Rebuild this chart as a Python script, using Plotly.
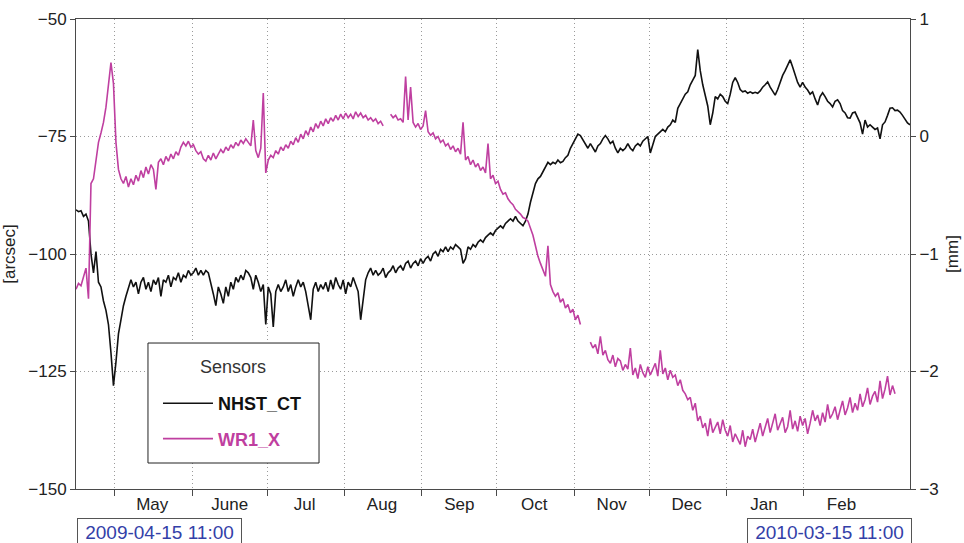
import pandas as pd
import plotly.graph_objects as go

# ---- data ----
start = "2009-04-15 11:00"
end = "2010-03-15 11:00"
dates = pd.date_range(start, periods=335, freq="D")

nhst_ct = [  # [arcsec], left axis, daily
    -90.6, -91, -90.8, -92, -91.5, -93, -100, -104, -99.5, -106,
    -107, -110, -112, -115, -121, -128, -123, -117, -114, -111,
    -109, -107, -105.5, -107, -106, -108.5, -106, -105, -107.5, -106,
    -108, -105.5, -106.5, -105, -109, -105.5, -106, -104.5, -107, -105,
    -105.5, -104, -106, -104.5, -105, -103.5, -104.5, -104, -103, -104.5,
    -103.5, -104.5, -103.5, -104, -106, -108.5, -111, -107, -108.5, -110.5,
    -107, -109, -106, -107.5, -105, -106, -104.5, -105.5, -103.5, -104,
    -105, -107.5, -104.5, -106, -108, -106.5, -115, -107, -108.5, -115.5,
    -108, -106.5, -108, -107, -105.5, -108, -106.5, -109, -107, -105.5,
    -107, -106, -108, -111.5, -114, -107.5, -106, -108, -106.5, -107.5,
    -106, -108, -105.5, -107.5, -105, -106.5, -107.5, -105.5, -108.5, -106,
    -107, -105, -106.5, -108, -114, -109, -105.5, -104, -103, -104.5,
    -103.5, -104.5, -104, -103, -105, -104, -103.5, -102.5, -104, -103,
    -102.5, -103.5, -102, -101.5, -103, -102, -101.5, -102.5, -101, -102,
    -101, -100.5, -101.5, -100, -99.5, -100.5, -99, -99.5, -98.5, -99.5,
    -98.5, -99, -98, -98.5, -99, -102, -101, -98.5, -99, -98,
    -98.5, -97.5, -97, -97.5, -96.5, -96, -95.5, -96, -95, -94.5,
    -94, -94.5, -93.5, -93, -92.5, -93, -92, -93, -93.5, -94,
    -93, -91.5, -89, -87, -85, -84, -83.5, -82.5, -81.5, -80.5,
    -81, -80.5, -80.8, -80, -80.6, -80.3, -79.5, -79, -77.5, -76.5,
    -75.5, -74.5, -74.8, -75.8, -76.5, -77.5, -76.5, -77.5, -78.3, -77,
    -76.5, -75.5, -74.8, -75.5, -76.5, -76, -77.5, -78.5, -77.5, -78,
    -77.5, -76.5, -77.5, -78, -77, -76.5, -77, -76, -75.5, -75,
    -78.5, -76.5, -75, -74.5, -74, -73.5, -74, -73, -72.5, -71.5,
    -72, -69, -68, -67, -66, -65.5, -64, -63, -62, -56.5,
    -61, -64, -66.5, -68.5, -72.5, -70, -66.5, -67, -66, -66.5,
    -67.5, -68, -66, -63.5, -62.5, -63.5, -65, -65.5, -65.3, -65.8,
    -65.5, -65.8, -65.6, -65.8, -65.3, -64.5, -64, -63.4, -64.5, -65.5,
    -66.2, -65, -63.5, -62, -61, -60, -58.7, -60.2, -62, -63.5,
    -64.5, -63.5, -64.5, -65.1, -66, -65.5, -67, -68.3, -66.5, -65.7,
    -66.5, -67.5, -68, -68.7, -67.5, -67.2, -68, -69.5, -70, -71,
    -71.1, -70, -69.8, -71, -72.1, -74.5, -71.5, -73, -72.5, -73,
    -73.5, -73.2, -75.5, -72.5, -71.9, -70.5, -69, -68.9, -69.5, -69.4,
    -69.8, -70.5, -71.3, -72.1, -72.5,
]

wr1_x = [  # [mm], right axis, daily
    -1.30, -1.25, -1.27, -1.20, -1.12, -1.38, -0.40, -0.36, -0.22, -0.05,
    0.03, 0.12, 0.25, 0.42, 0.63, 0.45, -0.05, -0.28, -0.36, -0.40,
    -0.34, -0.43, -0.36, -0.41, -0.33, -0.38, -0.29, -0.35, -0.26, -0.32,
    -0.24, -0.28, -0.45, -0.22, -0.19, -0.24, -0.17, -0.21, -0.15, -0.19,
    -0.13, -0.16, -0.09, -0.05, -0.08, -0.04, -0.09, -0.07, -0.12, -0.15,
    -0.13, -0.19, -0.21, -0.16, -0.20, -0.14, -0.19, -0.15, -0.11, -0.14,
    -0.09, -0.12, -0.07, -0.10, -0.05, -0.08, -0.03, -0.06, -0.02, -0.05,
    -0.08, 0.14, -0.12, -0.18, -0.10, 0.37, -0.31, -0.20, -0.16, -0.18,
    -0.12, -0.15, -0.09, -0.12, -0.07, -0.10, -0.04, -0.07, -0.01, -0.05,
    0.02, -0.02, 0.05, 0.01, 0.08, 0.04, 0.11, 0.07, 0.13, 0.09,
    0.15, 0.11, 0.16, 0.13, 0.18, 0.14, 0.19, 0.15, 0.20, 0.16,
    0.19, 0.15, 0.21, 0.17, 0.20, 0.16, 0.18, 0.14, 0.16, 0.13,
    0.15, 0.11, 0.13, 0.09, None, None, 0.19, 0.16, 0.18, 0.14,
    0.15, 0.12, 0.51, 0.14, 0.42, 0.12, 0.08, 0.11, 0.06, 0.09,
    0.22, 0.04, 0.01, 0.03, -0.02, 0.00, -0.05, -0.03, -0.08, -0.06,
    -0.11, -0.08, -0.13, -0.10, -0.15, 0.12, -0.20, -0.17, -0.24, -0.20,
    -0.26, -0.23, -0.29, -0.26, -0.31, -0.06, -0.36, -0.33, -0.40, -0.38,
    -0.45, -0.49, -0.48, -0.53, -0.56, -0.58, -0.62, -0.64, -0.66, -0.69,
    -0.70, -0.72, -0.78, -0.84, -0.93, -1.02, -1.08, -1.14, -1.19, -0.93,
    -1.26, -1.32, -1.36, -1.33, -1.41, -1.38, -1.46, -1.43, -1.50, -1.47,
    -1.56, -1.52, -1.60, None, None, None, -1.75, -1.80, -1.77, -1.85,
    -1.70, -1.86, -1.82, -1.90, -1.93, -1.86, -1.96, -1.89, -1.91, -1.99,
    -1.94, -1.98, -1.80, -2.03, -1.97, -2.06, -1.94, -2.01, -2.05, -1.96,
    -2.03, -1.98, -1.93, -2.04, -1.82, -2.02, -1.97, -2.07, -1.99, -2.05,
    -2.03, -2.12, -2.07, -2.16, -2.19, -2.24, -2.22, -2.33, -2.27, -2.42,
    -2.38, -2.48, -2.44, -2.55, -2.40, -2.52, -2.47, -2.43, -2.53, -2.41,
    -2.50, -2.55, -2.46, -2.60, -2.53, -2.57, -2.62, -2.50, -2.64, -2.55,
    -2.58, -2.49, -2.60, -2.52, -2.44, -2.55, -2.48, -2.40, -2.52, -2.45,
    -2.36, -2.50, -2.44, -2.39, -2.52, -2.47, -2.33, -2.49, -2.42, -2.51,
    -2.38, -2.46, -2.40, -2.53, -2.44, -2.33, -2.42, -2.37, -2.46, -2.35,
    -2.43, -2.28, -2.40, -2.36, -2.30, -2.41, -2.33, -2.25, -2.37, -2.31,
    -2.22, -2.35, -2.27, -2.33, -2.19, -2.30, -2.24, -2.14, -2.28, -2.21,
    -2.17, -2.26, -2.08, -2.23, -2.15, -2.04, -2.20, -2.12, -2.19, None,
    None, None, None, None, None,
]

month_starts = ["2009-05-01", "2009-06-01", "2009-07-01", "2009-08-01", "2009-09-01",
                "2009-10-01", "2009-11-01", "2009-12-01", "2010-01-01", "2010-02-01"]
month_mids = ["2009-05-16", "2009-06-16", "2009-07-16", "2009-08-16", "2009-09-16",
              "2009-10-16", "2009-11-16", "2009-12-16", "2010-01-16", "2010-02-16"]
month_names = ["May", "June", "Jul", "Aug", "Sep", "Oct", "Nov", "Dec", "Jan", "Feb"]

left_ticks = [-150, -125, -100, -75, -50]
right_ticks = [-3, -2, -1, 0, 1]

BLACK = "#111111"
MAGENTA = "#BF3FA0"
FONT = "Liberation Sans, Arial, sans-serif"
AXIS = "#4a4a4a"
GRID = "#9a9a9a"
GRIDDASH = "1px,3px"

fig = go.Figure()
fig.add_trace(go.Scatter(x=dates, y=nhst_ct, mode="lines", name="<b>NHST_CT</b>",
                         legendgroup="a", hoverinfo="skip",
                         line=dict(color=BLACK, width=1.6), yaxis="y"))
fig.add_trace(go.Scatter(x=dates, y=wr1_x, mode="lines",
                         name="<b><span style='color:#BF3FA0'>WR1_X</span></b>",
                         legendgroup="b", hoverinfo="skip",
                         line=dict(color=MAGENTA, width=1.6), yaxis="y2",
                         connectgaps=False))

fig.update_layout(
    width=964, height=543,
    margin=dict(l=76, r=54, t=19, b=54),
    paper_bgcolor="white", plot_bgcolor="white",
    font=dict(family=FONT, size=17, color="#222222"),
    showlegend=True,
    legend=dict(
        x=0.0983, y=0.2213, xanchor="left", yanchor="top",
        bgcolor="rgba(0,0,0,0)", borderwidth=0,
        font=dict(family=FONT, size=18, color="#111111"),
        itemwidth=50,
        tracegroupgap=9,
    ),
    xaxis=dict(
        type="date", range=[start, end], automargin=False,
        tickmode="array", tickvals=month_mids, ticktext=month_names,
        ticks="", showgrid=False,
        showline=True, linecolor=AXIS, linewidth=1, mirror=True,
        tickfont=dict(family=FONT, size=17, color="#222222"),
        minor=dict(tickmode="array", tickvals=month_starts, showgrid=True,
                   gridcolor=GRID, griddash=GRIDDASH, gridwidth=1,
                   ticks="outside", ticklen=6, tickcolor=AXIS),
        zeroline=False,
    ),
    yaxis=dict(
        range=[-150, -50], tickmode="array", tickvals=left_ticks, automargin=False,
        showgrid=True, gridcolor=GRID, griddash=GRIDDASH,
        showline=True, linecolor=AXIS, linewidth=1,
        ticks="outside", ticklen=5, tickcolor=AXIS,
        title=dict(text="[arcsec]", standoff=10, font=dict(family=FONT, size=17, color="#222222")),
        zeroline=False,
    ),
    yaxis2=dict(
        range=[-3, 1], tickmode="array", tickvals=right_ticks, automargin=False,
        overlaying="y", side="right", showgrid=False,
        showline=True, linecolor=AXIS, linewidth=1,
        ticks="outside", ticklen=5, tickcolor=AXIS,
        title=dict(text="[mm]", standoff=8, font=dict(family=FONT, size=17, color="#222222")),
        zeroline=False,
    ),
)

# legend frame and title
fig.add_shape(type="rect", xref="paper", yref="paper",
              x0=0.0863, x1=0.2914, y0=0.0553, y1=0.3106,
              line=dict(color="#222222", width=1), fillcolor="white", layer="above")
fig.add_annotation(text="Sensors", xref="paper", yref="paper", x=0.1888, y=0.2596,
                   xanchor="center", yanchor="middle", showarrow=False,
                   font=dict(family=FONT, size=18, color="#333333"))

for txt, xpos, anchor in [("2009-04-15 11:00", 0.001, "left"), ("2010-03-15 11:00", 1.002, "right")]:
    fig.add_annotation(
        text=txt, xref="paper", yref="paper", x=xpos, y=-0.0617,
        xanchor=anchor, yanchor="top", showarrow=False,
        width=157, align="center",
        font=dict(family=FONT, size=19, color="#3340A8"),
        bordercolor="#555555", borderwidth=1, borderpad=3, bgcolor="white",
    )

fig.write_html("out.html", config={"displayModeBar": False},
               post_script="document.body.style.margin='0';")
